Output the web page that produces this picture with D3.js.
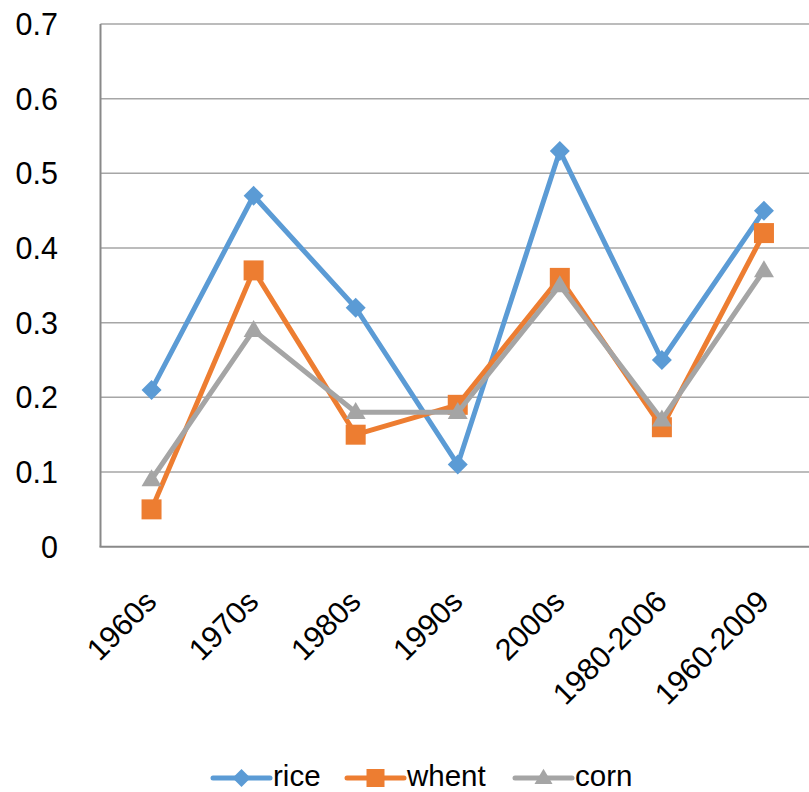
<!DOCTYPE html>
<html><head><meta charset="utf-8">
<script src="https://cdn.jsdelivr.net/npm/d3@7"></script>
<style>body{margin:0;background:#fff}svg{display:block;font-family:"Liberation Sans",Arial,sans-serif}</style>
</head><body>
<script>
const categories = ["1960s","1970s","1980s","1990s","2000s","1980-2006","1960-2009"];
const rice  = [0.21,0.47,0.32,0.11,0.53,0.25,0.45];
const whent = [0.05,0.37,0.15,0.19,0.36,0.16,0.42];
const corn  = [0.09,0.29,0.18,0.18,0.35,0.17,0.37];
const yTicks = [0,0.1,0.2,0.3,0.4,0.5,0.6,0.7];
const seriesNames = ["rice","whent","corn"];
const colors = ["#5B9BD5","#ED7D31","#A5A5A5"];

const W=809,H=792;
const svg=d3.select("body").append("svg").attr("width",W).attr("height",H);
const pL=100.5, pR=815, pT=24, pB=546.7;
const x=d3.scalePoint().domain(categories).range([pL,pR]).padding(0.5);
const y=d3.scaleLinear().domain([0,0.7]).range([pB,pT]);
const FS=30.5;

// gridlines
svg.append("g").selectAll("line").data(yTicks.filter(d=>d>0)).join("line")
  .attr("x1",pL).attr("x2",W).attr("y1",d=>y(d)).attr("y2",d=>y(d))
  .attr("stroke","#a6a6a6").attr("stroke-width",1.5);
// axes lines
svg.append("line").attr("x1",pL).attr("x2",pL).attr("y1",pT).attr("y2",pB).attr("stroke","#898989").attr("stroke-width",2);
svg.append("line").attr("x1",pL-1).attr("x2",W).attr("y1",pB).attr("y2",pB).attr("stroke","#898989").attr("stroke-width",2);

// y labels
svg.append("g").selectAll("text").data(yTicks).join("text")
  .attr("x",58).attr("y",d=>y(d)).attr("dy","0.36em").attr("text-anchor","end")
  .attr("font-size",FS).attr("fill","#000").text(d=>d===0?"0":d3.format(".1f")(d));

// x labels
svg.append("g").selectAll("text").data(categories).join("text")
  .attr("transform",d=>`translate(${x(d)-1},${pB+49}) rotate(-45)`)
  .attr("text-anchor","end").attr("dy","0.36em")
  .attr("font-size",FS).attr("fill","#000").text(d=>d);

// marker shapes
function marker(k,s){
  if(k===0){ // diamond (rotated square)
    return `M0,${-s}L${s},0L0,${s}L${-s},0Z`;
  } else if(k===1){
    return `M${-s},${-s}H${s}V${s}H${-s}Z`;
  } else {
    const h=s*1.7;
    return `M0,${-h*0.6}L${s},${h*0.4}L${-s},${h*0.4}Z`;
  }
}
const msz=[10,10,10];

const data=[rice,whent,corn];
const line=d3.line().x((d,i)=>x(categories[i])).y(d=>y(d));
data.forEach((vals,k)=>{
  const g=svg.append("g");
  g.append("path").attr("d",line(vals)).attr("fill","none").attr("stroke",colors[k]).attr("stroke-width",5).attr("stroke-linejoin","round");
  g.selectAll("path.m").data(vals).join("path").attr("class","m")
    .attr("transform",(d,i)=>`translate(${x(categories[i])},${y(d)})`)
    .attr("d",marker(k,msz[k])).attr("fill",colors[k]);
});

// legend
const legX=[213,347,515];
const lg=svg.append("g");
seriesNames.forEach((n,k)=>{
  const g=lg.append("g").attr("transform",`translate(${legX[k]},778)`);
  g.append("line").attr("x1",0).attr("x2",57).attr("stroke",colors[k]).attr("stroke-width",5).attr("stroke-linecap","round");
  g.append("path").attr("transform","translate(28.5,0)").attr("d",marker(k,k===0?9:9)).attr("fill",colors[k]);
  g.append("text").attr("x",60).attr("y",7.5).attr("font-size",FS-1).attr("fill","#000").text(n);
});
</script>
</body></html>
